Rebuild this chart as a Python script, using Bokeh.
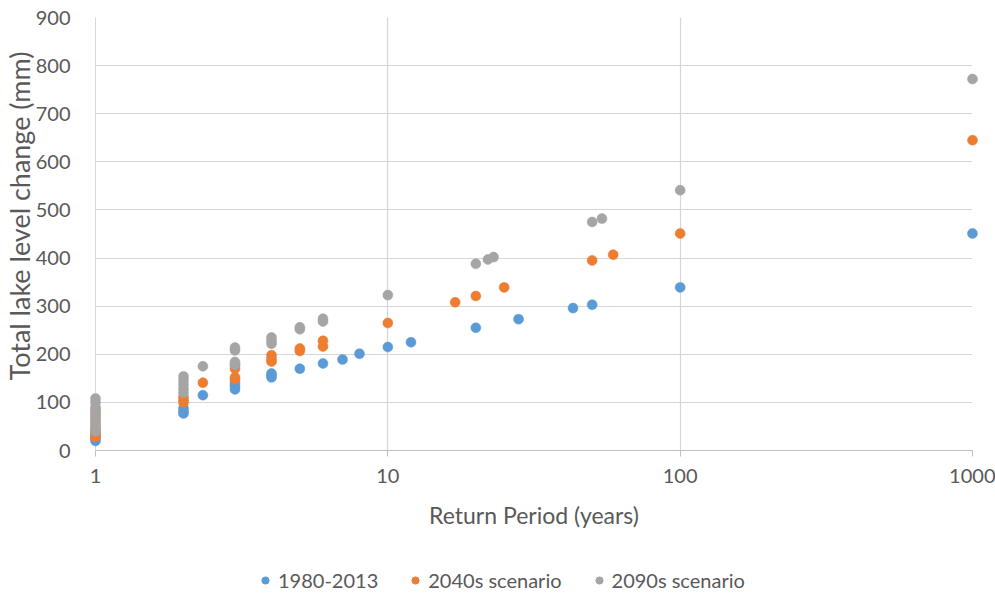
from bokeh.plotting import figure
from bokeh.layouts import column
from bokeh.models import Legend, LegendItem, FixedTicker, NumeralTickFormatter, Title
from bokeh.embed import file_html
from bokeh.resources import INLINE

# ---- data ----
x_ticks = [1, 10, 100, 1000]
y_ticks = [0, 100, 200, 300, 400, 500, 600, 700, 800, 900]

series_names = ["1980-2013", "2040s scenario", "2090s scenario"]
series_colors = ["#5B9BD5", "#ED7D31", "#A5A5A5"]

x_1980 = [1, 1, 1, 1, 1, 2, 2, 2, 2.33, 3, 3, 3, 4, 4, 4, 5, 6, 7, 8, 10, 12, 20, 28, 43, 50, 100, 1000]
y_1980 = [20, 25, 30, 35, 40, 77, 82, 88, 115, 127, 134, 141, 152, 156, 160, 170, 181, 189, 201, 215, 225, 255, 273, 296, 303, 339, 451]

x_2040 = [1, 1, 1, 1, 1, 1, 1, 2, 2, 2, 2.33, 3, 3, 3, 3, 4, 4, 4, 5, 5, 6, 6, 10, 17, 20, 25, 50, 59, 100, 1000]
y_2040 = [28, 35, 45, 55, 65, 75, 85, 100, 105, 111, 141, 148, 152, 170, 178, 185, 190, 198, 207, 212, 216, 228, 265, 308, 321, 339, 395, 407, 451, 645]

x_2090 = [1, 1, 1, 1, 1, 1, 1, 1, 2, 2, 2, 2, 2, 2.33, 3, 3, 3, 3, 4, 4, 4, 5, 5, 6, 6, 10, 20, 22, 23, 50, 54, 100, 1000]
y_2090 = [40, 50, 60, 70, 80, 90, 100, 108, 120, 128, 137, 146, 154, 175, 178, 184, 208, 214, 222, 228, 235, 252, 256, 268, 274, 323, 388, 397, 402, 475, 482, 541, 772]

FONT = "Lato"
TXT = "#595959"

p = figure(width=995, height=554, x_axis_type="log",
           x_range=(1, 1000), y_range=(0, 900),
           output_backend="svg", toolbar_location=None,
           min_border_left=95, min_border_right=23, min_border_top=17, min_border_bottom=104)
p.outline_line_color = None
p.background_fill_color = "white"
p.border_fill_color = "white"

for xs, ys, c in zip([x_1980, x_2040, x_2090], [y_1980, y_2040, y_2090], series_colors):
    p.scatter(xs, ys, size=10, fill_color=c, line_color=c, line_width=0.5, level="overlay")

# axes
p.xaxis.ticker = FixedTicker(ticks=x_ticks)
p.xaxis.formatter = NumeralTickFormatter(format="0")
p.xaxis.minor_tick_line_color = None
p.xaxis.major_tick_in = 0
p.xaxis.major_tick_out = 6
p.xaxis.axis_line_color = "#bfbfbf"
p.xaxis.major_tick_line_color = "#bfbfbf"
p.xaxis.major_label_standoff = 12
p.xaxis.axis_label = "Return Period (years)"
p.xaxis.axis_label_standoff = 15
p.xaxis.axis_label_text_font = FONT
p.xaxis.axis_label_text_font_size = "23px"
p.xaxis.axis_label_text_font_style = "normal"
p.xaxis.axis_label_text_color = TXT

p.yaxis.ticker = FixedTicker(ticks=y_ticks)
p.yaxis.minor_tick_line_color = None
p.yaxis.major_tick_line_color = None
p.yaxis.axis_line_color = "#d9d9d9"
p.yaxis.major_label_standoff = 19

for ax in (p.xaxis, p.yaxis):
    ax.major_label_text_font = FONT
    ax.major_label_text_font_size = "20px"
    ax.major_label_text_color = TXT

p.grid.grid_line_color = "#d6d6d6"
p.grid.grid_line_width = 1.2

ytitle = Title(text="Total lake level change (mm)", align="left", offset=70, standoff=-6,
               text_font=FONT, text_font_size="27px", text_font_style="normal", text_color=TXT)
p.add_layout(ytitle, "left")

# ---- legend strip below the chart ----
leg = figure(width=995, height=40, output_backend="svg", toolbar_location=None,
             x_range=(0, 1), y_range=(0, 1), min_border=0,
             x_axis_location=None, y_axis_location=None)
leg.grid.visible = False
leg.outline_line_color = None
nan = float("nan")
leg_renderers = [leg.scatter([nan], [nan], size=10, fill_color=c, line_color=c) for c in series_colors]
legend = Legend(items=[LegendItem(label=n, renderers=[r]) for n, r in zip(series_names, leg_renderers)],
                orientation="horizontal", location=(161, 2),
                border_line_color=None, background_fill_alpha=0,
                label_text_font=FONT, label_text_font_size="20px", label_text_color=TXT,
                glyph_width=18, glyph_height=18, label_standoff=4, spacing=28,
                padding=0, margin=0)
leg.add_layout(legend, "center")

layout = column(p, leg, spacing=0)
open("out.html", "w").write(file_html(layout, INLINE))
